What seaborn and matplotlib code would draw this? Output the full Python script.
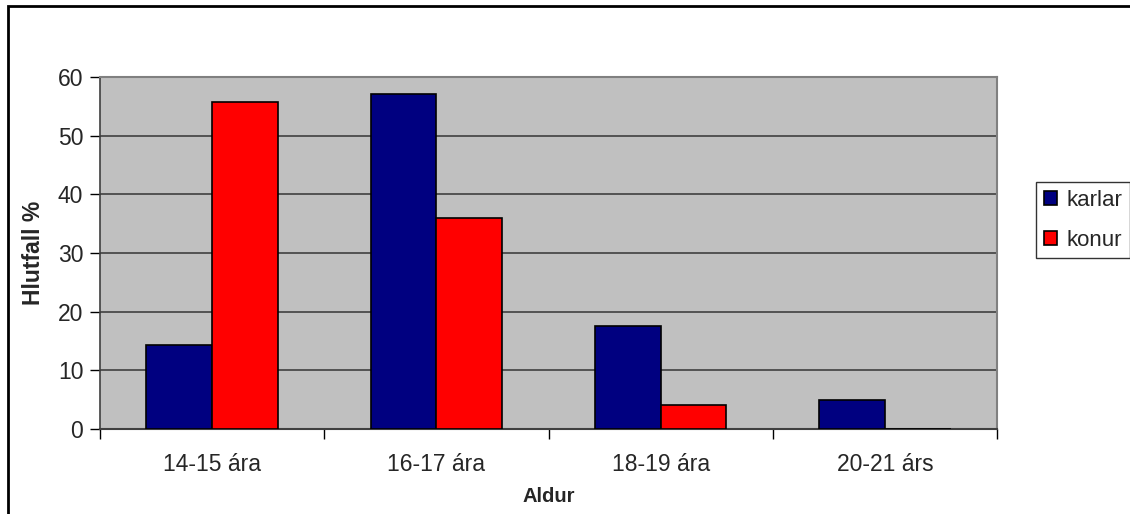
import pandas as pd
import matplotlib.pyplot as plt
import seaborn as sns
from matplotlib.patches import Rectangle

# Data
aldur = ['14-15 ára', '16-17 ára', '18-19 ára', '20-21 árs']
karlar = [14.4, 57.1, 17.5, 4.9]
konur = [55.7, 35.9, 4.1, 0.0]

df = pd.DataFrame({
    'Aldur': aldur * 2,
    'Hlutfall': karlar + konur,
    'Kyn': ['karlar'] * len(aldur) + ['konur'] * len(aldur),
})

sns.set_style("white")
plt.rcParams['font.family'] = ['Liberation Sans', 'DejaVu Sans']

fig = plt.figure(figsize=(11.3, 5.14), dpi=100)
ax = fig.add_axes([100 / 1130, 1 - 429 / 514, 897 / 1130, 352 / 514])
ax.set_facecolor('#C0C0C0')

sns.barplot(data=df, x='Aldur', y='Hlutfall', hue='Kyn',
            palette={'karlar': '#000080', 'konur': '#FF0000'},
            width=0.586, gap=0, edgecolor='black', linewidth=1.2,
            saturation=1, ax=ax, zorder=3)

ax.set_xlim(-0.5, len(aldur) - 0.5)
ax.set_ylim(0, 60)
ax.set_yticks(range(0, 61, 10))
ax.yaxis.grid(True, color='#404040', linewidth=1.2, zorder=1)
ax.set_axisbelow(True)

# tick marks between categories, labels centered
ax.set_xticks([i - 0.5 for i in range(len(aldur) + 1)], minor=True)
ax.tick_params(axis='x', which='major', length=0, labelsize=16.5, pad=17)
ax.tick_params(axis='x', which='minor', length=7, width=1, color='black', direction='out', bottom=True)
ax.tick_params(axis='y', length=7, width=1, color='black', direction='out', labelsize=16.5, left=True, pad=5)

for side in ['top', 'right']:
    ax.spines[side].set_color('#808080')
    ax.spines[side].set_linewidth(1.5)
ax.spines['left'].set_color('#404040')
ax.spines['bottom'].set_color('#404040')
ax.spines['left'].set_linewidth(1.2)
ax.spines['bottom'].set_linewidth(1.5)

ax.set_xlabel('Aldur', fontsize=14.5, fontweight='bold', labelpad=8)
ax.set_ylabel('Hlutfall %', fontsize=16.5, fontweight='bold', labelpad=9)

handles, labels = ax.get_legend_handles_labels()
ax.legend(handles, labels, loc='upper left',
          bbox_to_anchor=(1036 / 1130, 1 - 182 / 514), bbox_transform=fig.transFigure,
          fontsize=16, frameon=True, fancybox=False, edgecolor='black',
          handlelength=0.6, handleheight=0.6, handletextpad=0.4,
          borderpad=0.35, labelspacing=0.85, borderaxespad=0)
leg = ax.get_legend()
leg.get_frame().set_linewidth(1.0)

# outer chart border
fig.patches.append(Rectangle((8 / 1130, -0.1), 1.2, 1 - 6 / 514 + 0.1,
                             transform=fig.transFigure, fill=False,
                             edgecolor='black', linewidth=2))

fig.savefig('out.png', dpi=100)
